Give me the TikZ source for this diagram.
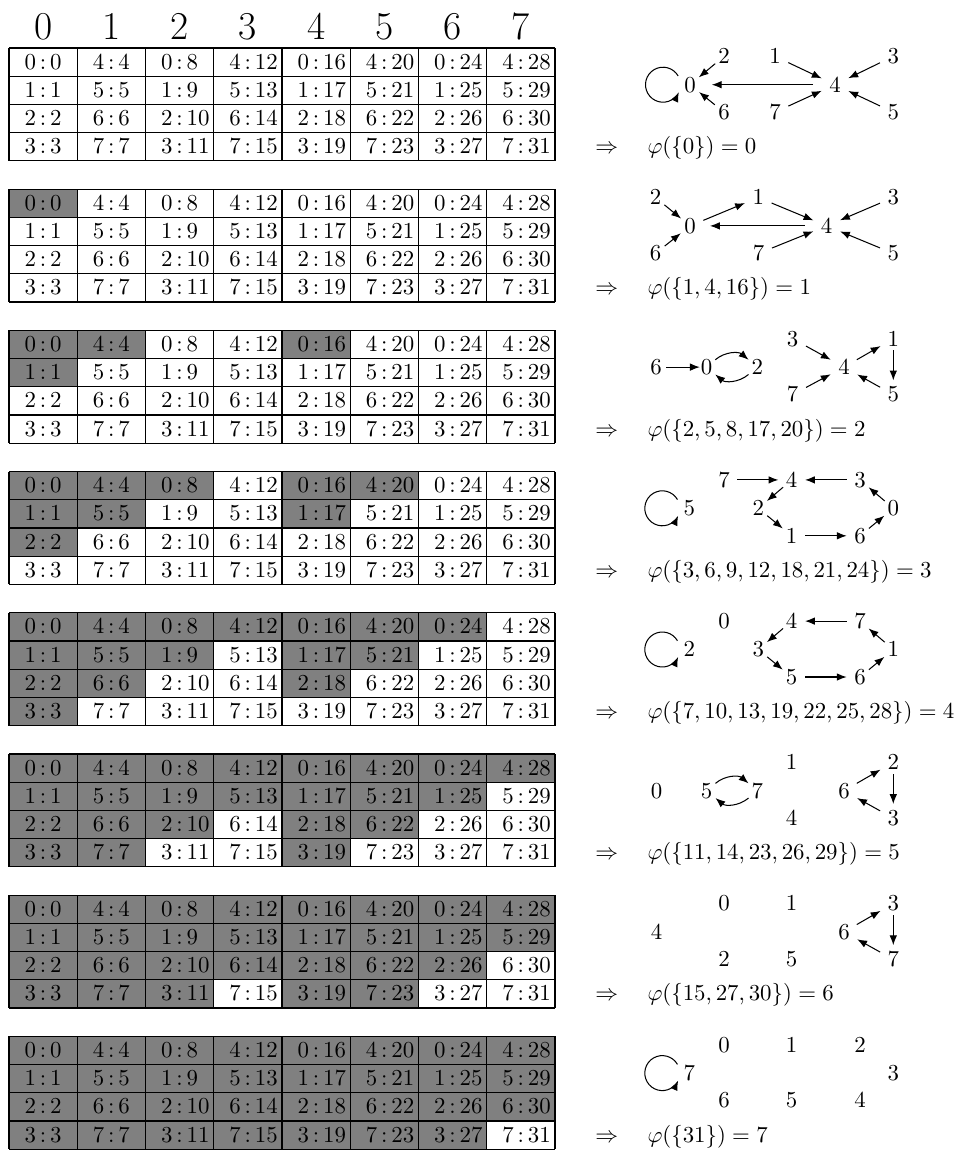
\documentclass[tikz,border=0pt]{standalone}
\usetikzlibrary{arrows.meta,calc}
\begin{document}
\begin{tikzpicture}[x=0.4376pt,y=0.4376pt,
  gnode/.style={inner xsep=3.33pt, inner ysep=0pt, text height=6.44pt, text depth=0pt, outer sep=0pt},
  arr/.style={-{Latex[length=4.3pt,width=3.3pt]}, line width=0.45pt},
  shadecell/.style={fill=black!50},
  gridline/.style={line width=0.45pt},
  celltext/.style={anchor=base, inner sep=0pt},
  hdr/.style={anchor=base, inner sep=0pt, font=\LARGE},
  eqn/.style={anchor=base west, inner sep=0pt}]
\useasboundingbox (0,0) rectangle (958,-1150);
% header digits
\foreach \c in {0,...,7}
  \node[hdr] (h\c) at ({9+68.25*(\c+0.5)},-39) {\c};
% tables
\foreach \b in {0,...,7}{
  \pgfmathsetmacro\ty{-(48+141.2*\b)}
  \foreach \c in {0,...,7}{
    \foreach \r in {0,...,3}{
      \pgfmathtruncatemacro\lv{\r+mod(\c,4)+int(\c/4)}
      \pgfmathsetmacro\xa{9+68.25*\c}
      \pgfmathsetmacro\ya{\ty-28.2*\r}
      \ifnum\lv<\b \fill[shadecell] (\xa,\ya) rectangle ++(68.25,-28.2);\fi
    }}
  \foreach \k in {0,...,8} \draw[gridline] ({9+68.25*\k},\ty) -- ++(0,-112.8);
  \foreach \k in {0,...,4} \draw[gridline] (9,{\ty-28.2*\k}) -- ++(546,0);
  \foreach \c in {0,...,7}{
    \foreach \r in {0,...,3}{
      \pgfmathtruncatemacro\n{4*\c+\r}
      \pgfmathtruncatemacro\lab{mod(\n,8)}
      \node[celltext] (t\b-\c-\r) at ({9+68.25*(\c+0.5)},{\ty-28.2*\r-21}) {\llap{\lab\,}:\rlap{\,\n}};
    }}
}
% equations
\node[eqn] (eq0) at (595,-153.6) {$\Rightarrow\quad\varphi(\{0\}) = 0$};
\node[eqn] (eq1) at (595,{-153.6-141.2}) {$\Rightarrow\quad\varphi(\{1,4,16\}) = 1$};
\node[eqn] (eq2) at (595,{-153.6-2*141.2}) {$\Rightarrow\quad\varphi(\{2,5,8,17,20\}) = 2$};
\node[eqn] (eq3) at (595,{-153.6-3*141.2}) {$\Rightarrow\quad\varphi(\{3,6,9,12,18,21,24\}) = 3$};
\node[eqn] (eq4) at (595,{-153.6-4*141.2}) {$\Rightarrow\quad\varphi(\{7,10,13,19,22,25,28\}) = 4$};
\node[eqn] (eq5) at (595,{-153.6-5*141.2}) {$\Rightarrow\quad\varphi(\{11,14,23,26,29\}) = 5$};
\node[eqn] (eq6) at (595,{-153.6-6*141.2}) {$\Rightarrow\quad\varphi(\{15,27,30\}) = 6$};
\node[eqn] (eq7) at (595,{-153.6-7*141.2}) {$\Rightarrow\quad\varphi(\{31\}) = 7$};
% graph 1
\begin{scope}
\node[gnode] (a0) at (690,-84.7) {0};
\node[gnode] (a2) at (724,-56.3) {2};
\node[gnode] (a6) at (724,-112.2) {6};
\node[gnode] (a1) at (775,-56.3) {1};
\node[gnode] (a7) at (775,-112.2) {7};
\node[gnode] (a4) at (835,-84.7) {4};
\node[gnode] (a3) at (893.3,-56.3) {3};
\node[gnode] (a5) at (893.3,-112.2) {5};
\draw[arr] (a2) -- (a0);
\draw[arr] (a6) -- (a0);
\draw[arr,shorten <=3.8pt,shorten >=3.7pt] (a4) -- (a0);
\draw[arr] (a1) -- (a4);
\draw[arr] (a7) -- (a4);
\draw[arr] (a3) -- (a4);
\draw[arr] (a5) -- (a4);
\draw[arr] ([shift={(-11.85,8.75)}]a0.center) arc[start angle=30,end angle=335,radius=17.5];
\end{scope}
% graph 2
\begin{scope}[shift={(0,-141.2)}]
\node[gnode] (b2) at (655.5,-56.3) {2};
\node[gnode] (b6) at (655.5,-112.2) {6};
\node[gnode] (b0) at (690,-84.7) {0};
\node[gnode] (b1) at (758.3,-56.3) {1};
\node[gnode] (b7) at (758.7,-112.2) {7};
\node[gnode] (b4) at (826.7,-84.7) {4};
\node[gnode] (b3) at (893.3,-56.3) {3};
\node[gnode] (b5) at (893.3,-112.2) {5};
\draw[arr] (b2) -- (b0);
\draw[arr] (b6) -- (b0);
\draw[arr] (b0) -- (b1);
\draw[arr] (b1) -- (b4);
\draw[arr] (b7) -- (b4);
\draw[arr,shorten <=3.7pt,shorten >=2.9pt] (b4) -- (b0);
\draw[arr] (b3) -- (b4);
\draw[arr] (b5) -- (b4);
\end{scope}
% graph 3
\begin{scope}[shift={(0,-282.4)}]
\node[gnode] (c6) at (656,-84.7) {6};
\node[gnode] (c0) at (706.5,-84.7) {0};
\node[gnode] (c2) at (757.3,-84.7) {2};
\node[gnode] (c3) at (792.7,-56.3) {3};
\node[gnode] (c7) at (792.7,-112.2) {7};
\node[gnode] (c4) at (844,-84.7) {4};
\node[gnode] (c1) at (893.3,-56.3) {1};
\node[gnode] (c5) at (893.3,-112.2) {5};
\draw[arr,shorten <=-1.4pt,shorten >=-2.9pt] (c6) -- (c0);
\draw[arr] (c0) to[bend left=40] (c2);
\draw[arr] (c2) to[bend left=40] (c0);
\draw[arr] (c3) -- (c4);
\draw[arr] (c7) -- (c4);
\draw[arr] (c4) -- (c1);
\draw[arr,shorten <=1.9pt,shorten >=3pt] (c1) -- (c5);
\draw[arr] (c5) -- (c4);
\end{scope}
% graph 4
\begin{scope}[shift={(0,-423.6)}]
\node[gnode] (d5) at (689.3,-84.7) {5};
\node[gnode] (d7) at (724,-56.3) {7};
\node[gnode] (d4) at (791.7,-56.3) {4};
\node[gnode] (d3) at (860,-56.3) {3};
\node[gnode] (d2) at (758.3,-84.7) {2};
\node[gnode] (d0) at (893.3,-84.7) {0};
\node[gnode] (d1) at (791.7,-112.2) {1};
\node[gnode] (d6) at (860,-112.2) {6};
\draw[arr] (d7) -- (d4);
\draw[arr] (d3) -- (d4);
\draw[arr] (d4) -- (d2);
\draw[arr] (d2) -- (d1);
\draw[arr] (d1) -- (d6);
\draw[arr] (d6) -- (d0);
\draw[arr] (d0) -- (d3);
\draw[arr] ([shift={(-11.85,8.75)}]d5.center) arc[start angle=30,end angle=335,radius=17.5];
\end{scope}
% graph 5
\begin{scope}[shift={(0,-564.8)}]
\node[gnode] (e0) at (724,-56.3) {0};
\node[gnode] (e4) at (791.7,-56.3) {4};
\node[gnode] (e7) at (860,-56.3) {7};
\node[gnode] (e2) at (689.3,-84.7) {2};
\node[gnode] (e3) at (758.3,-84.7) {3};
\node[gnode] (e1) at (893.3,-84.7) {1};
\node[gnode] (e5) at (791.7,-112.2) {5};
\node[gnode] (e6) at (860,-112.2) {6};
\draw[arr] (e7) -- (e4);
\draw[arr] (e4) -- (e3);
\draw[arr] (e3) -- (e5);
\draw[arr] (e5) -- (e6);
\draw[arr] (e6) -- (e1);
\draw[arr] (e1) -- (e7);
\draw[arr] ([shift={(-11.85,8.75)}]e2.center) arc[start angle=30,end angle=335,radius=17.5];
\end{scope}
% graph 6
\begin{scope}[shift={(0,-706)}]
\node[gnode] (f1) at (791.7,-56.3) {1};
\node[gnode] (f0) at (656.7,-84.7) {0};
\node[gnode] (f5) at (706.7,-84.7) {5};
\node[gnode] (f7) at (757.3,-84.7) {7};
\node[gnode] (f6) at (844,-84.7) {6};
\node[gnode] (f2) at (893.3,-56.3) {2};
\node[gnode] (f3) at (893.3,-112.2) {3};
\node[gnode] (f4) at (791.7,-112.2) {4};
\draw[arr] (f5) to[bend left=40] (f7);
\draw[arr] (f7) to[bend left=40] (f5);
\draw[arr] (f6) -- (f2);
\draw[arr,shorten <=1.9pt,shorten >=3pt] (f2) -- (f3);
\draw[arr] (f3) -- (f6);
\end{scope}
% graph 7
\begin{scope}[shift={(0,-847.2)}]
\node[gnode] (g0) at (724,-56.3) {0};
\node[gnode] (g1) at (791.7,-56.3) {1};
\node[gnode] (g4) at (656.7,-84.7) {4};
\node[gnode] (g6) at (844,-84.7) {6};
\node[gnode] (g3) at (893.3,-56.3) {3};
\node[gnode] (g7) at (893.3,-112.2) {7};
\node[gnode] (g2) at (724,-112.2) {2};
\node[gnode] (g5) at (791.7,-112.2) {5};
\draw[arr] (g6) -- (g3);
\draw[arr,shorten <=1.9pt,shorten >=3pt] (g3) -- (g7);
\draw[arr] (g7) -- (g6);
\end{scope}
% graph 8
\begin{scope}[shift={(0,-988.4)}]
\node[gnode] (h7) at (689.3,-84.7) {7};
\node[gnode] (h0) at (724,-56.3) {0};
\node[gnode] (h1) at (791.7,-56.3) {1};
\node[gnode] (h2) at (860,-56.3) {2};
\node[gnode] (h3) at (893.3,-84.7) {3};
\node[gnode] (h6) at (724,-112.2) {6};
\node[gnode] (h5) at (791.7,-112.2) {5};
\node[gnode] (h4) at (860,-112.2) {4};
\draw[arr] ([shift={(-11.85,8.75)}]h7.center) arc[start angle=30,end angle=335,radius=17.5];
\end{scope}
\end{tikzpicture}
\end{document}
